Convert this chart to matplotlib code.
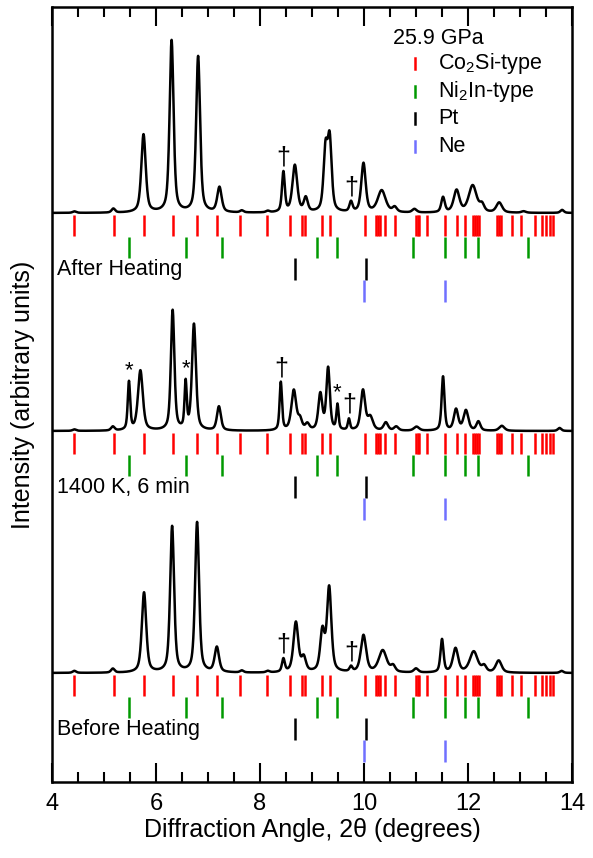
import numpy as np
import matplotlib
matplotlib.use("Agg")
import matplotlib.pyplot as plt

plt.rcParams['font.family'] = ['Liberation Sans', 'DejaVu Sans']
plt.rcParams['mathtext.fontset'] = 'custom'
plt.rcParams['mathtext.rm'] = 'Liberation Sans'
plt.rcParams['mathtext.it'] = 'Liberation Sans:italic'

# ---------------- data (2theta in degrees, intensity in arbitrary units) -------------
# peaks of each pattern: position, height, FWHM
after_pos = [4.43, 5.18, 5.76, 6.30, 6.81, 7.22, 7.65, 8.15, 8.45, 8.67, 8.88, 9.26, 9.34,
             9.75, 9.99, 10.34, 10.59, 10.97, 11.52, 11.78, 12.09, 12.27, 12.60, 13.07, 13.81]
after_int = [1.5, 4, 78, 172, 156, 25, 2, 1.5, 40, 47, 14, 60, 70,
             10, 49, 22, 5, 3.5, 15, 22, 27, 7, 10, 1.5, 3]
after_fwhm = [0.08, 0.08, 0.10, 0.09, 0.09, 0.10, 0.08, 0.08, 0.065, 0.11, 0.09, 0.09, 0.09,
              0.07, 0.10, 0.18, 0.10, 0.10, 0.08, 0.13, 0.18, 0.10, 0.13, 0.10, 0.08]

heat_pos = [4.43, 5.17, 5.48, 5.70, 6.32, 6.57, 6.73, 7.21, 8.40, 8.65, 8.77, 8.91, 9.16,
            9.31, 9.49, 9.71, 9.98, 10.12, 10.42, 10.62, 11.01, 11.52, 11.77, 11.96, 12.20,
            12.65, 13.76]
heat_int = [1.5, 4, 48, 60, 120, 46, 106, 24, 48, 40, 10, 6, 36,
            62, 25, 11, 40, 13, 8, 4, 4, 54, 21, 20, 9,
            5, 3]
heat_fwhm = [0.08, 0.08, 0.055, 0.11, 0.08, 0.05, 0.09, 0.09, 0.055, 0.11, 0.09, 0.09, 0.09,
             0.08, 0.05, 0.05, 0.10, 0.12, 0.10, 0.10, 0.12, 0.065, 0.10, 0.11, 0.09,
             0.12, 0.08]

before_pos = [4.43, 5.17, 5.77, 6.31, 6.79, 7.17, 7.65, 8.15, 8.45, 8.69, 8.84, 9.20, 9.33,
              9.75, 9.99, 10.36, 10.56, 11.00, 11.50, 11.76, 12.11, 12.31, 12.59, 13.80]
before_int = [2, 4, 80, 146, 150, 25, 2, 1.5, 13, 50, 14, 40, 84,
              5, 37, 22, 6, 4, 33, 24, 21, 6, 12, 2]
before_fwhm = [0.08, 0.08, 0.10, 0.09, 0.09, 0.10, 0.08, 0.08, 0.065, 0.11, 0.10, 0.10, 0.10,
               0.065, 0.12, 0.18, 0.10, 0.10, 0.07, 0.12, 0.18, 0.10, 0.13, 0.08]

# reflection positions (degrees 2theta)
co2si_ticks = [4.43, 5.19, 5.77, 6.32, 6.79, 7.17, 7.62, 8.14, 8.58, 8.81, 8.86, 9.20, 9.35,
               10.01, 10.23, 10.27, 10.31, 10.40, 10.59, 11.00, 11.03, 11.06, 11.21, 11.56,
               11.78, 11.95, 12.09, 12.13, 12.17, 12.21, 12.56, 12.60, 12.64, 12.84, 13.02,
               13.29, 13.43, 13.50, 13.57, 13.64]
ni2in_ticks = [5.49, 6.57, 7.27, 9.09, 9.48, 10.95, 11.55, 11.95, 12.19, 13.15]
pt_ticks = [8.68, 10.03]
ne_ticks = [10.00, 11.55]

labels = ["After Heating", "1400 K, 6 min", "Before Heating"]
# markers: (x, symbol)
after_marks = [(8.45, "†"), (9.75, "†")]
heat_marks = [(5.48, "*"), (6.57, "*"), (8.40, "†"), (9.49, "*"), (9.71, "†")]
before_marks = [(8.45, "†"), (9.75, "†")]

# ----------------------------------------------------------------------------------
def pattern(x, pos, inten, fwhm, eta=0.55):
    y = np.zeros_like(x)
    for p, h, w in zip(pos, inten, fwhm):
        g = np.exp(-4 * np.log(2) * (x - p) ** 2 / w ** 2)
        l = 1.0 / (1 + 4 * (x - p) ** 2 / w ** 2)
        y += h * (eta * l + (1 - eta) * g)
    return y

fig = plt.figure(figsize=(5.93, 8.58), dpi=100)
ax = fig.add_axes([52 / 593, 1 - 782 / 858, 520 / 593, 775 / 858])
ax.set_xlim(4, 14)
ax.set_ylim(0, 775)

x = np.linspace(4, 14, 3001)
offsets = [569, 351, 109]
sets = [(after_pos, after_int, after_fwhm, after_marks),
        (heat_pos, heat_int, heat_fwhm, heat_marks),
        (before_pos, before_int, before_fwhm, before_marks)]

rows = [(co2si_ticks, 'red', 2, 23), (ni2in_ticks, '#009900', 24, 45),
        (pt_ticks, 'black', 45, 67), (ne_ticks, '#7070ff', 67, 89)]

for (pos, inten, fwhm, marks), off, lab in zip(sets, offsets, labels):
    y = pattern(x, pos, inten, fwhm) + off
    ax.plot(x, y, color='black', lw=1.8, solid_joinstyle='round')
    for ticks, col, a, b in rows:
        ax.vlines(ticks, off - b, off - a, color=col, lw=1.8)
    ax.text(4.09, off - 56, lab, fontsize=15.5, va='center', ha='left')
    for xm, sym in marks:
        sel = np.abs(x - xm) < 0.03
        ym = y[sel].max()
        if sym == "*":
            ax.annotate(sym, (xm, ym), xytext=(0, 0), textcoords='offset points',
                        ha='center', va='bottom', fontsize=16)
        else:
            ax.annotate(sym, (xm, ym), xytext=(0, 1), textcoords='offset points',
                        ha='center', va='bottom', fontsize=18)

# legend
ax.text(0.656, 0.960, "25.9 GPa", transform=ax.transAxes, fontsize=15.5, va='center', ha='left')
leg_items = [("Co$_2$Si-type", 'red'), ("Ni$_2$In-type", '#009900'),
             ("Pt", 'black'), ("Ne", '#7070ff')]
for i, (txt, col) in enumerate(leg_items):
    yy = 0.927 - i * 0.0355
    ax.plot([0.698, 0.698], [yy - 0.007, yy + 0.007], transform=ax.transAxes,
            color=col, lw=1.8)
    ax.text(0.742, yy, txt, transform=ax.transAxes, fontsize=15.5, va='center', ha='left')

ax.set_xticks([4, 6, 8, 10, 12, 14])
ax.set_xticks(np.arange(4, 14.01, 0.5), minor=True)
ax.set_yticks([])
ax.tick_params(axis='x', which='major', direction='in', length=14, width=1.5,
               top=True, labelsize=17, pad=8)
ax.tick_params(axis='x', which='minor', direction='in', length=7, width=1.5, top=True)
for s in ax.spines.values():
    s.set_linewidth(1.8)
ax.set_xlabel("Diffraction Angle, 2θ (degrees)", fontsize=18, labelpad=2)
ax.set_ylabel("Intensity (arbitrary units)", fontsize=18, labelpad=12)

fig.savefig("out.png", dpi=100)
